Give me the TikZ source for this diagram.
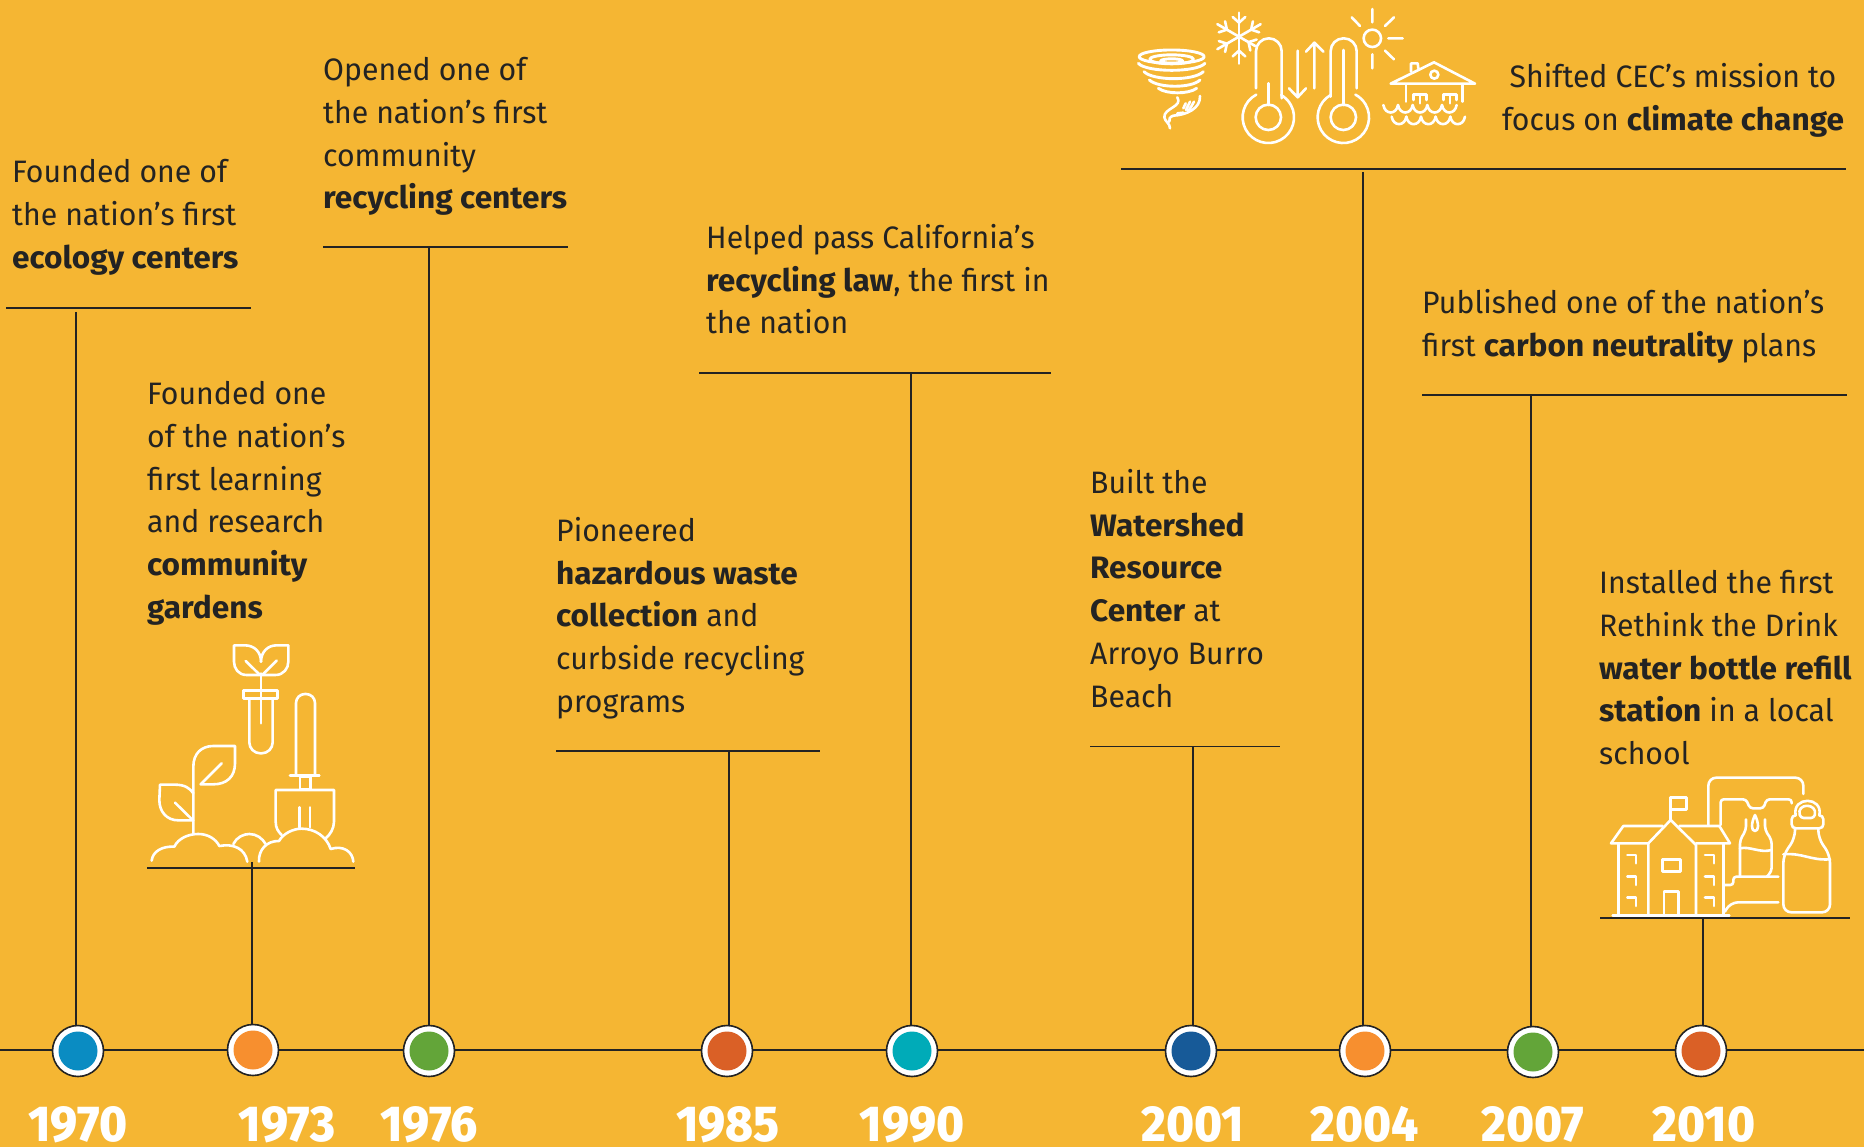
\documentclass[tikz,border=0pt]{standalone}
\usepackage{fontspec}
\setmainfont{Fira Sans}[FakeStretch=0.975,BoldFeatures={FakeStretch=1.02}]
\newfontfamily\yearfont{Fira Sans}[BoldFont=* ExtraBold,BoldFeatures={FakeStretch=0.94}]
\definecolor{bg}{HTML}{F5B633}
\definecolor{ink}{HTML}{232323}
\definecolor{cblue}{HTML}{0A8CC2}
\definecolor{corange}{HTML}{F78F2F}
\definecolor{cgreen}{HTML}{63A539}
\definecolor{cred}{HTML}{DA6026}
\definecolor{cteal}{HTML}{00ABB8}
\definecolor{cnavy}{HTML}{175A98}
\tikzset{
 txt/.style={anchor=north west,inner sep=0pt,align=left,text=ink,font=\fontsize{31}{42.8}\selectfont},
 txtc/.style={txt,anchor=north,align=center},
 rulew/.style={draw=ink,line width=1.7pt},
 ringn/.style={circle,draw=ink,fill=white,line width=1.6pt,minimum size=51pt,inner sep=0pt},
 dotn/.style={circle,fill=#1,minimum size=39pt,inner sep=0pt},
 yearn/.style={anchor=base,inner sep=0pt,text=white,font=\fontsize{50.5}{50.5}\bfseries\yearfont},
 icon/.style={draw=white,line width=2.6pt,line cap=round,line join=round},
 iconunits/.style={x=0.33333pt,y=-0.33333pt},
}
\begin{document}
\begin{tikzpicture}[x=1pt,y=-1pt]
\fill[bg] (0,0) rectangle (1864,1147);
\useasboundingbox (0,0) rectangle (1864,1147);
% timeline
\coordinate (tlL) at (0,1050); \coordinate (tlR) at (1864,1050);
\draw[rulew] (tlL) -- (tlR);
% circle positions
\coordinate (p70) at (78,1051);
\coordinate (p73) at (253,1050);
\coordinate (p76) at (429,1051);
\coordinate (p85) at (727,1051);
\coordinate (p90) at (912,1051);
\coordinate (p01) at (1191,1051);
\coordinate (p04) at (1365,1051);
\coordinate (p07) at (1533,1052);
\coordinate (p10) at (1701,1051);
% rules and stems
\foreach \n/\xa/\xb/\y/\sx/\sy in {70/6/251/308/76/312,73/147/355/868/252/862,76/323/568/247/429/247,85/556/820/751/729/751,90/699/1051/373/911/373,01/1090/1280/746.5/1193/746.5,04/1121/1846/169/1363/172,07/1422/1847/395/1531/395,10/1600/1850/918/1703/916}{
 \coordinate (ra\n) at (\xa,\y); \coordinate (rb\n) at (\xb,\y); \coordinate (st\n) at (\sx,\sy);
 \draw[rulew] (ra\n) -- (rb\n);
 \draw[rulew] (st\n) -- (st\n |- p\n);
}
% circles
\foreach \n/\c in {70/cblue,73/corange,76/cgreen,85/cred,90/cteal,01/cnavy,04/corange,07/cgreen,10/cred}{
 \node[ringn] (ring\n) at (p\n) {};
 \node[dotn=\c] (dot\n) at (p\n) {};
}
% years
\node[yearn] (y70) at (78,1141) {1970};
\node[yearn] (y73) at (287,1141) {1973};
\node[yearn] (y76) at (429,1141) {1976};
\node[yearn] (y85) at (728,1141) {1985};
\node[yearn] (y90) at (912,1141) {1990};
\node[yearn] (y01) at (1193,1141) {2001};
\node[yearn] (y04) at (1365,1141) {2004};
\node[yearn] (y07) at (1533,1141) {2007};
\node[yearn] (y10) at (1704,1141) {2010};
% texts
\node[txt] (t70) at (12,159) {Founded one of\\the nation’s first\\\textbf{ecology centers}};
\node[txt] (t73) at (147,381) {Founded one\\of the nation’s\\first learning\\and research\\\textbf{community}\\\textbf{gardens}};
\node[txt] (t76) at (323,57) {Opened one of\\the nation’s first\\community\\\textbf{recycling centers}};
\node[txt] (t85) at (556,517) {Pioneered\\\textbf{hazardous waste}\\\textbf{collection} and\\curbside recycling\\programs};
\node[txt] (t90) at (706,224) {Helped pass California’s\\\textbf{recycling law}, the first in\\the nation};
\node[txt] (t01) at (1090,469) {Built the\\\textbf{Watershed}\\\textbf{Resource}\\\textbf{Center} at\\Arroyo Burro\\Beach};
\node[txtc] (t04) at (1673,63) {Shifted CEC’s mission to\\focus on \textbf{climate change}};
\node[txt] (t07) at (1422,289) {Published one of the nation’s\\first \textbf{carbon neutrality} plans};
\node[txt] (t10) at (1599,570) {Installed the first\\Rethink the Drink\\\textbf{water bottle refill}\\\textbf{station} in a local\\school};
% icon: gardening
\begin{scope}[iconunits,shift={(130pt,-630pt)}]
\draw[icon] (393,280) -- (393,130);
\draw[icon] (393,135) -- (350,135) .. controls (325,135) and (312,115) .. (312,95) -- (312,46) -- (345,46) .. controls (372,46) and (393,65) .. (393,95);
\draw[icon] (393,135) -- (436,135) .. controls (461,135) and (475,115) .. (475,95) -- (475,46) -- (440,46) .. controls (414,46) and (393,65) .. (393,95);
\draw[icon] (347,93) -- (390,135) (440,92) -- (397,135);
\draw[icon] (341,181) rectangle (443,205);
\draw[icon,rounded corners=11pt] (358,205) -- (358,370) -- (428,370) -- (428,205);
\draw[icon,rounded corners=9pt] (498,435) -- (498,192) -- (555,192) -- (555,435);
\draw[icon] (480,437) -- (568,437);
\draw[icon] (510,441) rectangle (541,477);
\draw[icon] (455,615) .. controls (445,605) and (437,595) .. (437,575) -- (437,480) -- (612,480) -- (612,575) .. controls (612,595) and (600,615) .. (587,625);
\draw[icon] (508,532) -- (508,592) (540,532) -- (540,592);
\draw[icon] (190,610) -- (190,410) .. controls (190,370) and (215,348) .. (250,348) -- (315,348) -- (315,400) .. controls (315,440) and (290,463) .. (250,463) -- (212,463) -- (275,400);
\draw[icon] (190,490) .. controls (180,475) and (165,464) .. (135,464) -- (90,464) -- (88,510) .. controls (88,545) and (110,571) .. (145,571) -- (190,571);
\draw[icon] (135,518) -- (188,570);
\draw[icon] (65,692) .. controls (68,665) and (95,648) .. (133,650) .. controls (145,625) and (175,612) .. (205,612) .. controls (235,612) and (258,628) .. (268,648) .. controls (310,640) and (345,655) .. (352,695);
\draw[icon] (310,642) .. controls (320,622) and (340,612) .. (358,612) .. controls (380,612) and (397,625) .. (407,642);
\draw[icon] (387,695) .. controls (385,660) and (410,632) .. (447,633) .. controls (460,610) and (490,596) .. (515,596) .. controls (555,596) and (590,620) .. (602,657) .. controls (640,645) and (668,665) .. (670,695);
\end{scope}
% icon: climate
\begin{scope}[iconunits,shift={(1120pt,0pt)}]
% tornado
\draw[icon,line width=2.9pt] (155,170) ellipse [x radius=32.5pt,y radius=6.7pt];
\draw[icon,line width=2.9pt] (155,178) ellipse [x radius=22pt,y radius=4.5pt];
\draw[icon,line width=2.9pt] (155,183) ellipse [x radius=11pt,y radius=2.2pt];
\draw[icon,line width=2.9pt] (55,190) .. controls (80,218) and (230,218) .. (255,190);
\draw[icon,line width=2.9pt] (72,215) .. controls (100,243) and (222,243) .. (250,215);
\draw[icon,line width=2.9pt] (88,240) .. controls (115,265) and (215,265) .. (240,240);
\draw[icon,line width=2.9pt] (115,265) .. controls (140,283) and (205,283) .. (230,265);
\draw[icon] (172,292) .. controls (190,320) and (130,325) .. (133,352) .. controls (135,365) and (150,370) .. (150,385);
\draw[icon] (240,288) .. controls (242,325) and (200,345) .. (160,347) .. controls (150,350) and (145,358) .. (148,365);
\draw[icon] (197,310) -- (190,325) (210,305) -- (198,330) (222,305) -- (205,335) (172,340) -- (190,338);
% snowflake
\foreach \a/\r/\b in {90/24/14,30/25/14,150/25/14,210/25/14,270/27/14,330/19/11}{
 \draw[icon] (357,110) -- ++(\a:\r pt);
 \draw[icon] (357,110) ++(\a:\b pt) ++(\a+48:8.5pt) -- ++(\a+228:8.5pt) -- ++(\a-48:8.5pt);
}
% thermometers
\draw[icon,rounded corners=12.8pt] (408,265) -- (408,115) -- (485,115) -- (485,295);
\draw[icon] (445,352) ++(118:25.7pt) arc [start angle=118,end angle=420,radius=25.7pt];
\draw[icon] (445,352) circle [radius=12.7pt];
\draw[icon] (445,250) -- (445,315);
\draw[icon,rounded corners=12.8pt] (632,290) -- (632,115) -- (710,115) -- (710,265);
\draw[icon] (670,352) ++(120:25.7pt) arc [start angle=120,end angle=422,radius=25.7pt];
\draw[icon] (670,352) circle [radius=12.7pt];
\draw[icon] (670,150) -- (670,315);
% arrows
\draw[icon] (533,152) -- (533,290) (507,265) -- (533,292) -- (558,265);
\draw[icon] (583,265) -- (583,128) (558,155) -- (583,128) -- (610,155);
% sun
\draw[icon] (757,115) circle [radius=8.7pt];
\draw[icon] (757,27) -- (757,67) (757,163) -- (757,205) (805,115) -- (848,115) (695,52) -- (720,78) (822,52) -- (795,78) (795,152) -- (822,178);
% house
\draw[icon] (812,251) -- (942,187) -- (1065,251) -- cycle;
\draw[icon] (873,215) -- (873,190) -- (893,190) -- (895,205);
\draw[icon] (943,224) circle [radius=4pt];
\draw[icon] (858,255) -- (858,305) (1028,255) -- (1028,305);
\draw[icon] (880,300) -- (880,283) -- (920,283) -- (920,300) (900,283) -- (900,310);
\draw[icon] (970,300) -- (970,283) -- (1010,283) -- (1010,300) (990,283) -- (990,310);
\foreach \wx in {790,834,878,922,966}{
 \draw[icon] (\wx,315) .. controls (\wx+5,345) and (\wx+39,345) .. (\wx+44,315);
}
\foreach \wx in {815,859,903,947,991}{
 \draw[icon] (\wx,350) .. controls (\wx+5,380) and (\wx+39,380) .. (\wx+44,350);
}
\end{scope}
% icon: school and bottles
\begin{scope}[iconunits,shift={(1590pt,-760pt)}]
\draw[icon] (68,466) -- (418,466);
\draw[icon] (85,250) -- (85,466);
\draw[icon] (175,250) -- (63,250) -- (100,198) -- (218,198);
\draw[icon] (268,198) -- (388,198) -- (420,250) -- (318,250);
\draw[icon] (175,466) -- (175,250) -- (242,180) -- (318,255) -- (318,466);
\draw[icon] (400,250) -- (400,466);
\draw[icon] (242,180) -- (242,112) -- (290,112) -- (290,148) -- (242,148);
\foreach \wy in {285,350,413}{
 \draw[icon] (112,\wy) -- (138,\wy) -- (138,\wy+25);
 \draw[icon] (345,\wy) -- (372,\wy) -- (372,\wy+25);
}
\draw[icon] (217,298) rectangle (271,335);
\draw[icon] (222,466) -- (222,395) -- (265,395) -- (265,466);
\draw[icon,rounded corners=8pt] (355,195) -- (355,53) -- (640,53) -- (640,102);
\draw[icon,rounded corners=3pt] (392,195) -- (392,118) -- (468,118) -- (480,145) -- (520,145) -- (530,118) -- (605,118) -- (605,130);
\draw[icon,rounded corners=4pt] (468,178) -- (468,210) -- (450,240) -- (450,350);
\draw[icon,rounded corners=4pt] (525,178) -- (525,210) -- (545,240) -- (545,335) -- (530,350);
\draw[icon] (450,265) .. controls (480,258) and (510,280) .. (545,270);
\draw[icon] (495,165) .. controls (483,190) and (483,213) .. (495,213) .. controls (507,213) and (507,190) .. (495,165);
\draw[icon,rounded corners=3pt] (405,375) -- (430,375) -- (430,350) -- (565,350);
\draw[icon,rounded corners=8pt] (405,455) -- (420,427) -- (565,427);
% bottle cap
\draw[icon,rounded corners=4pt] (617,166) -- (605,166) -- (605,205) -- (700,205) -- (700,166) -- (688,166);
\draw[icon] (617,166) .. controls (605,108) and (700,108) .. (688,166);
\draw[icon,rounded corners=3pt] (632,174) .. controls (618,128) and (684,128) .. (672,174) -- cycle;
% bottle body
\draw[icon,rounded corners=8pt] (615,205) -- (615,235) -- (580,285) -- (580,457) -- (720,457) -- (720,285) -- (685,235) -- (685,205);
\draw[icon] (580,283) .. controls (640,278) and (660,302) .. (720,298);
\end{scope}
\end{tikzpicture}
\end{document}
